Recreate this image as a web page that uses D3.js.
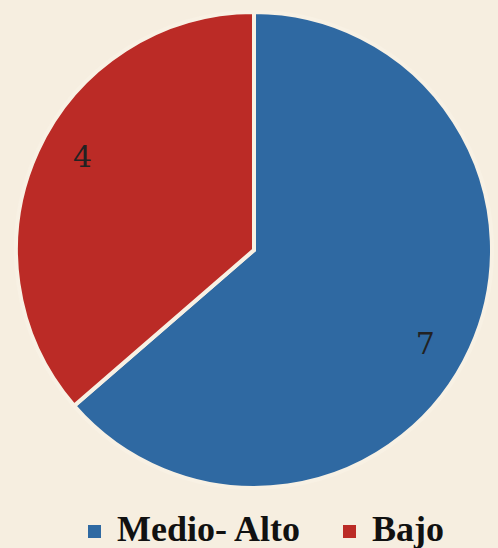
<!DOCTYPE html>
<html>
<head>
<meta charset="utf-8">
<script src="https://cdn.jsdelivr.net/npm/d3@7"></script>
<style>
  body { margin: 0; background: #f6eee0; }
</style>
</head>
<body>
<div id="chart"></div>
<script>
const categories = ["Medio- Alto", "Bajo"];
const values = [7, 4];
const colors = ["#2f69a2", "#bb2b26"];

const width = 498, height = 548;
const cx = 254, cy = 250, radius = 238;

const svg = d3.select("#chart")
  .append("svg")
    .attr("width", width)
    .attr("height", height)
    .style("background", "#f6eee0");

const g = svg.append("g")
    .attr("transform", `translate(${cx}, ${cy})`);

const pie = d3.pie().sort(null).value(d => d.value);
const arcs = pie(categories.map((c, i) => ({ name: c, value: values[i] })));

const arc = d3.arc().innerRadius(0).outerRadius(radius);
const labelArc = d3.arc().innerRadius(radius * 0.82).outerRadius(radius * 0.82);

g.selectAll("path")
  .data(arcs)
  .join("path")
    .attr("d", arc)
    .attr("fill", (d, i) => colors[i])
    .attr("stroke", "#f8f1e4")
    .attr("stroke-width", 4)
    .attr("stroke-linejoin", "miter");

// labels sit a little clockwise of the slice middle
const shift = 0.07;
g.selectAll("text.lbl")
  .data(arcs)
  .join("text")
    .attr("class", "lbl")
    .attr("transform", d => `translate(${labelArc.centroid({startAngle: d.startAngle + shift, endAngle: d.endAngle + shift})})`)
    .attr("text-anchor", "middle")
    .attr("dy", "0.35em")
    .style("font-family", "'DejaVu Serif', serif")
    .style("font-size", "30px")
    .style("fill", "#222")
    .text(d => d.data.value);

// legend
const legend = svg.append("g")
    .attr("transform", "translate(0, 541)");

const items = [{x: 88}, {x: 343}];
items.forEach((it, i) => {
  legend.append("rect")
    .attr("x", it.x)
    .attr("y", -16)
    .attr("width", 13)
    .attr("height", 13)
    .attr("fill", colors[i]);
  legend.append("text")
    .attr("x", it.x + 29)
    .attr("y", 0)
    .style("font-family", "'Liberation Serif', serif")
    .style("font-weight", "bold")
    .style("font-size", "36px")
    .style("fill", "#111")
    .text(categories[i]);
});
</script>
</body>
</html>
